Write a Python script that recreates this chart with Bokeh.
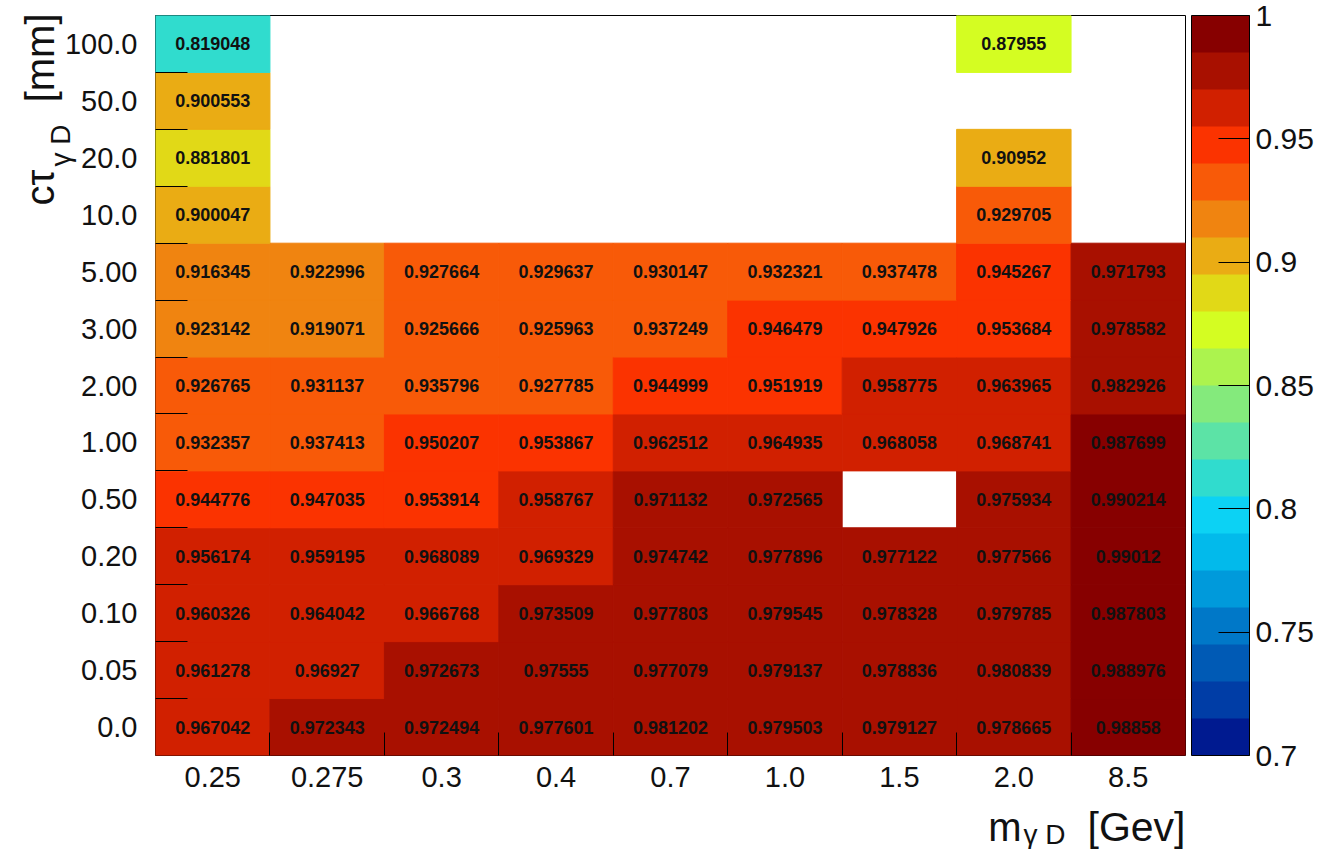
import math
from bokeh.plotting import figure
from bokeh.models import (ColumnDataSource, LinearColorMapper, ColorBar, FixedTicker,
                          Range1d, CustomJSTickFormatter, LinearAxis)
from bokeh.core.properties import value
from bokeh.embed import file_html
from bokeh.resources import INLINE

# ---------------- data ----------------
mass_labels = ["0.25", "0.275", "0.3", "0.4", "0.7", "1.0", "1.5", "2.0", "8.5"]
ctau_labels = ["0.0", "0.05", "0.10", "0.20", "0.50", "1.00", "2.00", "3.00", "5.00",
               "10.0", "20.0", "50.0", "100.0"]  # bottom -> top

# efficiency per ctau row (bottom -> top), one value per mass column; None = empty bin
row_0p0  = [0.967042, 0.972343, 0.972494, 0.977601, 0.981202, 0.979503, 0.979127, 0.978665, 0.98858]
row_0p05 = [0.961278, 0.96927, 0.972673, 0.97555, 0.977079, 0.979137, 0.978836, 0.980839, 0.988976]
row_0p10 = [0.960326, 0.964042, 0.966768, 0.973509, 0.977803, 0.979545, 0.978328, 0.979785, 0.987803]
row_0p20 = [0.956174, 0.959195, 0.968089, 0.969329, 0.974742, 0.977896, 0.977122, 0.977566, 0.99012]
row_0p50 = [0.944776, 0.947035, 0.953914, 0.958767, 0.971132, 0.972565, None, 0.975934, 0.990214]
row_1p00 = [0.932357, 0.937413, 0.950207, 0.953867, 0.962512, 0.964935, 0.968058, 0.968741, 0.987699]
row_2p00 = [0.926765, 0.931137, 0.935796, 0.927785, 0.944999, 0.951919, 0.958775, 0.963965, 0.982926]
row_3p00 = [0.923142, 0.919071, 0.925666, 0.925963, 0.937249, 0.946479, 0.947926, 0.953684, 0.978582]
row_5p00 = [0.916345, 0.922996, 0.927664, 0.929637, 0.930147, 0.932321, 0.937478, 0.945267, 0.971793]
row_10p0 = [0.900047, None, None, None, None, None, None, 0.929705, None]
row_20p0 = [0.881801, None, None, None, None, None, None, 0.90952, None]
row_50p0 = [0.900553, None, None, None, None, None, None, None, None]
row_100p0 = [0.819048, None, None, None, None, None, None, 0.87955, None]

rows = [row_0p0, row_0p05, row_0p10, row_0p20, row_0p50, row_1p00, row_2p00, row_3p00,
        row_5p00, row_10p0, row_20p0, row_50p0, row_100p0]

# colour scale (0.7 -> 1.0, 20 bands)
palette = ["#001A90", "#003DA6", "#005AB5", "#0078C8", "#009ADB", "#02BAEB", "#0CD2F4",
           "#30DCCE", "#5CE3A6", "#84EA7C", "#ACF34E", "#D4FD22", "#E1D917", "#EAAC14",
           "#F08410", "#F85A08", "#FB3300", "#D12000", "#A81000", "#870000"]
z_low, z_high = 0.7, 1.0
cbar_ticks = [0.7, 0.75, 0.8, 0.85, 0.9, 0.95, 1.0]

x_title_main = "m"
x_title_sub = "γ D"
x_title_unit = "[Gev]"
y_title_main = "cτ"
y_title_sub = "γ D"
y_title_unit = "[mm]"

# ---------------- build ----------------
xs, ys, vs, ts = [], [], [], []
for j, row in enumerate(rows):
    for i, v in enumerate(row):
        if v is None:
            continue
        xs.append(i)
        ys.append(j)
        vs.append(v)
        ts.append(f"{v:g}")
src = ColumnDataSource(dict(x=xs, y=ys, v=vs, t=ts))

nx, ny = len(mass_labels), len(ctau_labels)
W, H = 1325, 849
FL, FT = 155, 15         # frame left / top inside the canvas
FW, FH = 1030, 740       # frame size

p = figure(width=W, height=H, output_backend="svg", toolbar_location=None,
           x_range=Range1d(-0.5, nx - 0.5), y_range=Range1d(-0.5, ny - 0.5),
           min_border_left=FL, min_border_top=FT, min_border_right=W - FL - FW,
           min_border_bottom=H - FT - FH)
p.grid.visible = False
p.outline_line_color = "black"
p.outline_line_width = 1
p.background_fill_color = "white"
p.border_fill_color = "white"

mapper = LinearColorMapper(palette=palette, low=z_low, high=z_high)
cmap = {"field": "v", "transform": mapper}

p.rect(x="x", y="y", width=1, height=1, source=src,
       fill_color=cmap, line_color=cmap, line_width=1)
p.text(x="x", y="y", text="t", source=src, text_align="center", text_baseline="middle",
       text_font=value("Liberation Sans"), text_font_style="bold",
       text_font_size="18px", text_color="#111111")

font = "Liberation Sans"

# x axis
xax = p.xaxis[0]
xax.ticker = FixedTicker(ticks=list(range(nx)), minor_ticks=[i + 0.5 for i in range(nx - 1)])
xax.major_label_overrides = {i: lab for i, lab in enumerate(mass_labels)}
xax.major_tick_line_color = None
xax.minor_tick_in = 23
xax.minor_tick_out = 0
xax.minor_tick_line_color = "black"
xax.axis_line_color = None
xax.major_label_text_font = font
xax.major_label_text_font_size = "29px"
xax.major_label_text_color = "#111111"
xax.major_label_standoff = 5

# y axis
yax = p.yaxis[0]
yax.ticker = FixedTicker(ticks=list(range(ny)), minor_ticks=[j + 0.5 for j in range(ny - 1)])
yax.major_label_overrides = {j: lab for j, lab in enumerate(ctau_labels)}
yax.major_tick_line_color = None
yax.minor_tick_in = 32
yax.minor_tick_out = 0
yax.minor_tick_line_color = "black"
yax.axis_line_color = None
yax.major_label_text_font = font
yax.major_label_text_font_size = "29px"
yax.major_label_text_color = "#111111"
yax.major_label_standoff = 12

# small invisible spacer (6 px) between the frame and the colour bar
spacer = LinearAxis(ticker=FixedTicker(ticks=[0]), major_tick_out=6, minor_tick_out=0,
                    major_tick_in=0, minor_tick_in=0, major_label_standoff=0,
                    major_label_overrides={0: ""},
                    axis_line_color=None, major_tick_line_color=None,
                    minor_tick_line_color=None, major_label_text_font_size="1px")
p.add_layout(spacer, "right")

# colour bar
cb = ColorBar(color_mapper=mapper, ticker=FixedTicker(ticks=cbar_ticks),
              formatter=CustomJSTickFormatter(code="return String(tick)"),
              width=58, padding=0, margin=0, label_standoff=6,
              major_tick_in=31, major_tick_out=0, major_tick_line_color="black",
              minor_tick_line_color=None, bar_line_color="black",
              major_label_text_font=font, major_label_text_font_size="30px",
              major_label_text_color="#111111", border_line_color=None,
              background_fill_color="white")
p.add_layout(cb, "right")

# axis titles (positions given in canvas pixels, converted through the frame scales)
ux = FW / nx
uy = FH / ny
def dx(px):
    return (px - FL) / ux - 0.5
def dy(py):
    return ((FT + FH) - py) / uy - 0.5

tc = "#111111"
tfont = value(font)
common = dict(text_font=tfont, text_color=tc, text_baseline="middle", level="annotation")

# x title: baseline ~840 (40px) and subscript baseline ~844 (28px)
p.text(x=[dx(1185)], y=[dy(826)], text=[x_title_unit], text_align="right",
       text_font_size="41px", **common)
p.text(x=[dx(1021)], y=[dy(826)], text=[x_title_main], text_align="right",
       text_font_size="40px", **common)
p.text(x=[dx(1023)], y=[dy(834)], text=[x_title_sub], text_align="left",
       text_font_size="28px", **common)

# y title (rotated): baseline at x ~53, subscript baseline at x ~70
p.text(x=[dx(39)], y=[dy(13)], text=[y_title_unit], text_align="right", angle=math.pi / 2,
       text_font_size="40px", **common)
p.text(x=[dx(39)], y=[dy(205)], text=[y_title_main], text_align="left", angle=math.pi / 2,
       text_font_size="40px", **common)
p.text(x=[dx(60)], y=[dy(166)], text=[y_title_sub], text_align="left", angle=math.pi / 2,
       text_font_size="28px", **common)

open("out.html", "w").write(file_html(p, INLINE))
